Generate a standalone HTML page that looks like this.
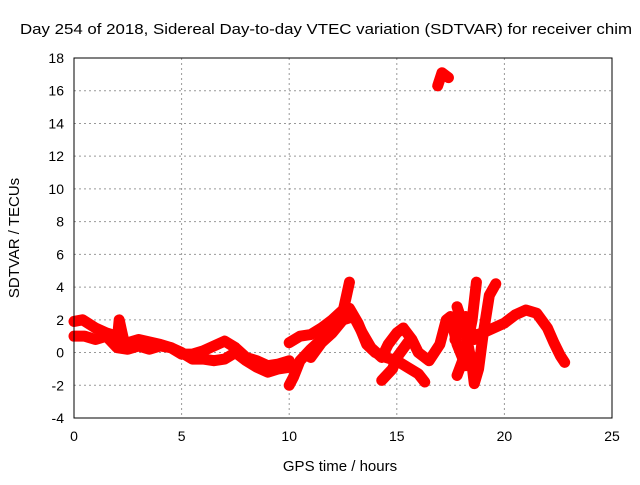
<!DOCTYPE html>
<html><head><meta charset="utf-8"><style>
body{margin:0;background:#fff;}
svg{font-family:"Liberation Sans",sans-serif;font-size:14px;}
</style></head><body>
<svg id="chart" width="640" height="480" xmlns="http://www.w3.org/2000/svg">
<text x="20" y="34" font-size="15" textLength="612" lengthAdjust="spacingAndGlyphs">Day 254 of 2018, Sidereal Day-to-day VTEC variation (SDTVAR) for receiver chim</text>
<text x="340" y="471" text-anchor="middle" font-size="15">GPS time / hours</text>
<text transform="translate(19,238) rotate(-90)" text-anchor="middle" font-size="15">SDTVAR / TECUs</text>
<g id="grid"></g><g id="marks"></g>
<rect x="74" y="58" width="538" height="360" fill="none" stroke="#000" stroke-width="1"/>
</svg>
<script>
const xTicks=[0,5,10,15,20,25];
const yTicks=[-4,-2,0,2,4,6,8,10,12,14,16,18];
const trackA1=[[0,1.9],[0.4,2.0],[1,1.5],[1.5,1.2],[2,1.0],[2.5,0.6],[3,0.8],[4,0.5],[4.5,0.3],[5,-0.1],[5.5,-0.1],[6,0.1],[6.5,0.4],[7,0.7],[7.5,0.3],[8,-0.3],[8.5,-0.5],[9,-0.8],[9.5,-0.7],[10,-0.5]];
const trackA2=[[0,1.0],[0.5,1.0],[1,0.8],[1.5,1.0],[2,0.3],[2.5,0.2],[3,0.4],[3.5,0.2],[4,0.4],[4.5,0.3],[5,0.0],[5.5,-0.4],[6,-0.4],[6.5,-0.5],[7,-0.4],[7.5,0.0],[8,-0.5],[8.5,-0.9],[9,-1.2],[9.5,-1.0],[10,-0.9]];
const trackS=[[2.0,0.6],[2.1,2.0],[2.3,0.8]];
const trackB=[[10,-2],[10.2,-1.5],[10.5,-0.5],[11,0.2],[11.5,0.8],[12,1.5],[12.5,2.5],[12.8,4.3]];
const trackC=[[10,0.6],[10.5,1.0],[11,1.1],[11.5,1.5],[12,2.0],[12.5,2.6],[12.8,2.7],[13.2,1.8],[13.6,0.5],[14,0.0],[14.5,-0.3],[15,-0.5],[15.5,-0.9],[16,-1.3],[16.3,-1.8]];
const trackD=[[11,-0.3],[11.5,0.6],[12,1.2],[12.5,2.0],[13,2.2],[13.4,1.2],[13.8,0.3],[14.3,-0.3],[14.6,0.5],[15,1.2],[15.3,1.5],[15.7,0.8],[16,0],[16.5,-0.5],[17,0.5],[17.3,2.0],[17.5,2.2],[17.8,0.5],[18.2,-0.8]];
const trackE=[[14.3,-1.7],[14.8,-1],[15,-0.3],[15.5,0.6]];
const trackF=[[17.8,2.8],[18.2,1.2],[18.5,-0.8],[18.6,-1.9],[18.8,-1],[19,1],[19.3,3.5],[19.6,4.2]];
const trackG=[[18.7,4.3],[18.5,2],[18.2,0],[17.8,-1.4]];
const trackH=[[17.6,1.5],[18,1.2],[18.5,1],[19,1.2],[19.5,1.5],[20,1.8],[20.5,2.3],[21,2.6],[21.5,2.4],[22,1.5],[22.3,0.6],[22.6,-0.2],[22.8,-0.6]];
const trackI=[[17.7,0.8],[18.2,2.2],[18.6,0.8]];
const trackOut=[[16.9,16.3],[17.1,17.1],[17.4,16.8]];
const tracks=[trackA1,trackA2,trackS,trackB,trackC,trackD,trackE,trackF,trackG,trackH,trackI,trackOut];
const NS="http://www.w3.org/2000/svg";
const X=h=>74+h*538/25, Y=v=>418-(v+4)*360/22;
const grid=document.getElementById('grid'), marks=document.getElementById('marks');
function mk(t,a,p){const e=document.createElementNS(NS,t);for(const k in a)e.setAttribute(k,a[k]);p.appendChild(e);return e;}
xTicks.forEach(t=>{
 if(t>0&&t<25){const l=mk('line',{x1:X(t),x2:X(t),y1:58,y2:418,stroke:'#999','stroke-dasharray':'2,3'},grid);
 
 }
 const tx=mk('text',{x:X(t),y:441,'text-anchor':'middle'},grid);tx.textContent=t;
 
 
});
yTicks.forEach(t=>{
 if(t>-4&&t<18){const l=mk('line',{x1:74,x2:612,y1:Y(t),y2:Y(t),stroke:'#999','stroke-dasharray':'2,3'},grid);
 
 }
 const tx=mk('text',{x:64,y:Y(t)+5,'text-anchor':'end'},grid);tx.textContent=t;
 
 
});
tracks.forEach(tr=>{
 const pl=mk('polyline',{points:tr.map(p=>X(p[0])+','+Y(p[1])).join(' '),fill:'none',stroke:'#f00','stroke-width':11,'stroke-linejoin':'round','stroke-linecap':'round'},marks);
 
 
 tr.forEach(p=>{const m=mk('path',{d:`M${X(p[0])-5},${Y(p[1])}h10M${X(p[0])},${Y(p[1])-5}v10`,stroke:'#f00','stroke-width':2},marks);
 
 });
});
</script>
</body></html>
